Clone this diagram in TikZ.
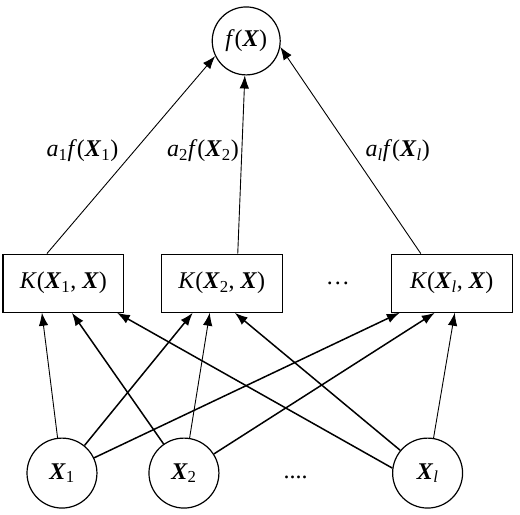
\documentclass[tikz,border=0pt]{standalone}
\usepackage{fontspec}
\setmainfont{Liberation Serif}
\usetikzlibrary{arrows.meta}
\newcommand{\vX}{\textbf{\textit{X}}}
\newcommand{\sub}[1]{\textsubscript{#1}}

\begin{document}
\begin{tikzpicture}[>={Latex[length=13pt,width=9.5pt]},
  every node/.style={font=\fontsize{24}{28}\selectfont},
  unit/.style={draw,circle,line width=1.2pt,minimum size=68pt,inner sep=0pt},
  kernel/.style={draw,line width=1.2pt,minimum width=121pt,minimum height=58pt,inner sep=0pt},
  thinlink/.style={->,line width=0.9pt},
  boldlink/.style={->,line width=1.5pt}]
  \useasboundingbox (0,0) rectangle (18.29,18.08);
  % output
  \node[unit] (f) at (8.66,16.64) {\textit{f}(\vX)};
  % kernel layer
  \node[kernel] (k1) at (2.23,8.12) {\textit{K}(\vX\sub{1}, \vX)};
  \node[kernel] (k2) at (7.80,8.12) {\textit{K}(\vX\sub{2}, \vX)};
  \node[kernel] (k3) at (15.89,8.12) {\textit{K}(\vX\sub{\textit{l}}, \vX)};
  \node (kdots) at (11.88,8.12) {\dots};
  % inputs
  \node[unit,minimum size=70pt] (x1) at (2.18,1.44) {\vX\sub{1}};
  \node[unit,minimum size=70pt] (x2) at (6.47,1.44) {\vX\sub{2}};
  \node[unit,minimum size=70pt] (xl) at (15.04,1.44) {\vX\sub{\textit{l}}};
  \node (xdots) at (10.40,1.30) {....};
  % weighted outputs
  \draw[thinlink] ([xshift=-16.5pt]k1.north) -- (f.206);
  \draw[thinlink] ([xshift=16pt]k2.north) -- (f);
  \draw[thinlink] ([xshift=-31pt]k3.north) -- (f.350);
  \node (w1) at (2.90,12.79) {\textit{a}\sub{1}\textit{f}(\vX\sub{1})};
  \node (w2) at (7.14,12.79) {\textit{a}\sub{2}\textit{f}(\vX\sub{2})};
  \node (wl) at (13.99,12.79) {\textit{a}\sub{\textit{l}}\textit{f}(\vX\sub{\textit{l}})};
  % inputs to kernels
  \draw[thinlink] (x1) -- ([xshift=-21.5pt]k1.south);
  \draw[boldlink] (x1) -- ([xshift=-29pt]k2.south);
  \draw[boldlink] (x1) -- ([xshift=-52pt]k3.south);
  \draw[boldlink] (x2) -- ([xshift=8.5pt]k1.south);
  \draw[thinlink] (x2) -- ([xshift=-12pt]k2.south);
  \draw[boldlink] (x2) -- ([xshift=-17pt]k3.south);
  \draw[boldlink] (xl.172) -- ([xshift=53.5pt]k1.south);
  \draw[boldlink] (xl) -- ([xshift=13pt]k2.south);
  \draw[thinlink] (xl) -- ([xshift=3pt]k3.south);
\end{tikzpicture}
\end{document}
